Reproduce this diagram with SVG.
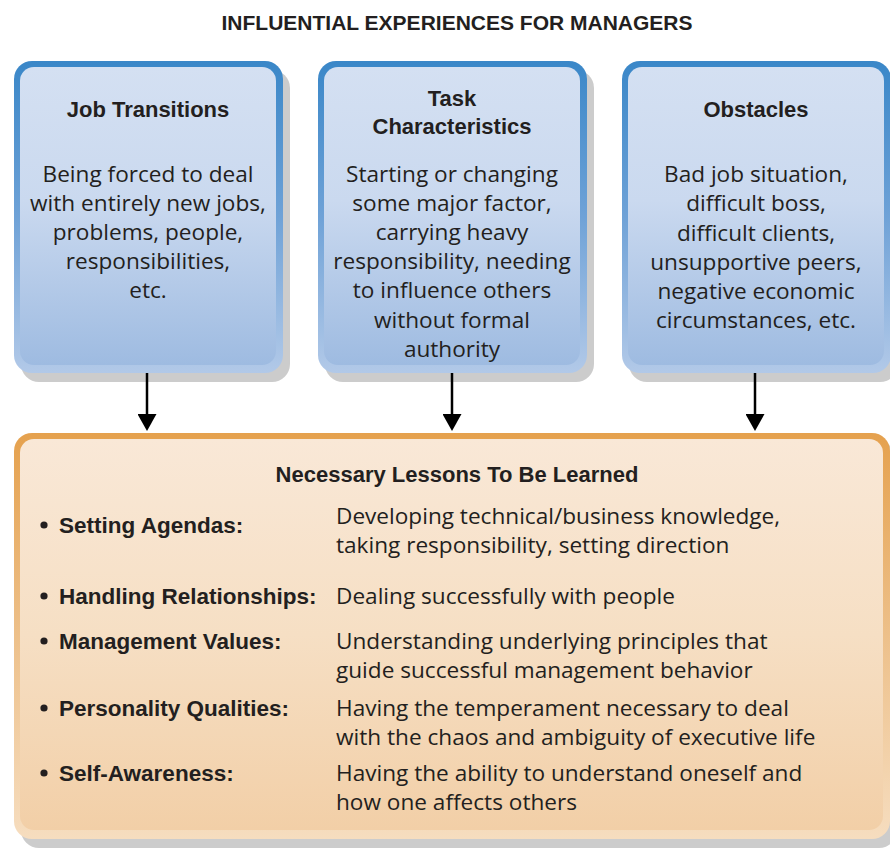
<svg xmlns="http://www.w3.org/2000/svg" width="890" height="865" viewBox="0 0 890 865">
<defs>
<linearGradient id="blueBorder" x1="0" y1="0" x2="0" y2="1">
<stop offset="0" stop-color="#3a87c8"/>
<stop offset="0.5" stop-color="#6fa2d7"/>
<stop offset="1" stop-color="#b2c9e8"/>
</linearGradient>
<linearGradient id="blueFill" x1="0" y1="0" x2="0" y2="1">
<stop offset="0" stop-color="#d4e0f2"/>
<stop offset="0.45" stop-color="#cad9ef"/>
<stop offset="1" stop-color="#9ebbe1"/>
</linearGradient>
<linearGradient id="orangeBorder" x1="0" y1="0" x2="0" y2="1">
<stop offset="0" stop-color="#e5a14e"/>
<stop offset="0.5" stop-color="#edc08a"/>
<stop offset="1" stop-color="#f6ddbf"/>
</linearGradient>
<linearGradient id="orangeFill" x1="0" y1="0" x2="0" y2="1">
<stop offset="0" stop-color="#f9e8d7"/>
<stop offset="0.5" stop-color="#f6dfc4"/>
<stop offset="1" stop-color="#f2cfa7"/>
</linearGradient>
<marker id="arrow" markerWidth="17" markerHeight="19" refX="6" refY="9.5" orient="auto" markerUnits="userSpaceOnUse" viewBox="0 0 17 19">
<path d="M0,0 L17,9.5 L0,19 Z" fill="#000"/>
</marker>
</defs>
<style>
.shadow{fill:#cccccc}
.title{font-family:"Liberation Sans",Arial,sans-serif;font-weight:bold;font-size:22px;fill:#231f20;text-anchor:middle}
.body{font-family:"Open Sans","Liberation Sans",sans-serif;font-size:22.6px;fill:#231f20;text-anchor:middle}
.label{font-family:"Liberation Sans",Arial,sans-serif;font-weight:bold;font-size:22.5px;fill:#231f20}
.desc{font-family:"Open Sans","Liberation Sans",sans-serif;font-size:22.6px;fill:#231f20}
.conn{stroke:#000;stroke-width:2.5;fill:none}
</style>
<rect width="890" height="865" fill="#ffffff"/>
<text x="457" y="30" class="title" style="font-size:21px">INFLUENTIAL EXPERIENCES FOR MANAGERS</text>

<g id="job-transitions">
<rect class="shadow" x="21" y="70" width="269" height="312" rx="18"/>
<rect x="14" y="61" width="269" height="312" rx="18" fill="url(#blueBorder)"/>
<rect x="20" y="67" width="256" height="298" rx="14" fill="url(#blueFill)"/>
<text x="148" y="117" class="title">Job Transitions</text>
<text class="body"><tspan x="148" y="182">Being forced to deal</tspan><tspan x="148" y="211">with entirely new jobs,</tspan><tspan x="148" y="240">problems, people,</tspan><tspan x="148" y="269">responsibilities,</tspan><tspan x="148" y="298">etc.</tspan></text>
</g>

<g id="task-characteristics">
<rect class="shadow" x="325" y="70" width="269" height="312" rx="18"/>
<rect x="318" y="61" width="269" height="312" rx="18" fill="url(#blueBorder)"/>
<rect x="324" y="67" width="256" height="298" rx="14" fill="url(#blueFill)"/>
<text class="title"><tspan x="452" y="106">Task</tspan><tspan x="452" y="134">Characteristics</tspan></text>
<text class="body"><tspan x="452" y="182">Starting or changing</tspan><tspan x="452" y="211">some major factor,</tspan><tspan x="452" y="240">carrying heavy</tspan><tspan x="452" y="269">responsibility, needing</tspan><tspan x="452" y="298">to influence others</tspan><tspan x="452" y="328">without formal</tspan><tspan x="452" y="357">authority</tspan></text>
</g>

<g id="obstacles">
<rect class="shadow" x="629" y="70" width="269" height="312" rx="18"/>
<rect x="622" y="61" width="269" height="312" rx="18" fill="url(#blueBorder)"/>
<rect x="628" y="67" width="256" height="298" rx="14" fill="url(#blueFill)"/>
<text x="756" y="117" class="title">Obstacles</text>
<text class="body"><tspan x="756" y="182">Bad job situation,</tspan><tspan x="756" y="211">difficult boss,</tspan><tspan x="756" y="241">difficult clients,</tspan><tspan x="756" y="270">unsupportive peers,</tspan><tspan x="756" y="299">negative economic</tspan><tspan x="756" y="328">circumstances, etc.</tspan></text>
</g>

<g id="connectors">
<line class="conn" x1="147" y1="373" x2="147" y2="420" marker-end="url(#arrow)"/>
<line class="conn" x1="452" y1="373" x2="452" y2="420" marker-end="url(#arrow)"/>
<line class="conn" x1="755" y1="373" x2="755" y2="420" marker-end="url(#arrow)"/>
</g>

<g id="lessons">
<rect class="shadow" x="21" y="442" width="876" height="406" rx="18"/>
<rect x="14" y="433" width="876" height="406" rx="18" fill="url(#orangeBorder)"/>
<rect x="20" y="439" width="863" height="391" rx="14" fill="url(#orangeFill)"/>
<text x="457" y="482" class="title">Necessary Lessons To Be Learned</text>
<g class="label">
<circle cx="44" cy="525" r="3.6" fill="#231f20"/>
<text x="59" y="533">Setting Agendas:</text>
<circle cx="44" cy="596" r="3.6" fill="#231f20"/>
<text x="59" y="604">Handling Relationships:</text>
<circle cx="44" cy="641" r="3.6" fill="#231f20"/>
<text x="59" y="649">Management Values:</text>
<circle cx="44" cy="708" r="3.6" fill="#231f20"/>
<text x="59" y="716">Personality Qualities:</text>
<circle cx="44" cy="773" r="3.6" fill="#231f20"/>
<text x="59" y="781">Self-Awareness:</text>
</g>
<text class="desc"><tspan x="336" y="524">Developing technical/business knowledge,</tspan><tspan x="336" y="553">taking responsibility, setting direction</tspan></text>
<text class="desc" x="336" y="604">Dealing successfully with people</text>
<text class="desc"><tspan x="336" y="649">Understanding underlying principles that</tspan><tspan x="336" y="678">guide successful management behavior</tspan></text>
<text class="desc"><tspan x="336" y="716">Having the temperament necessary to deal</tspan><tspan x="336" y="745">with the chaos and ambiguity of executive life</tspan></text>
<text class="desc"><tspan x="336" y="781">Having the ability to understand oneself and</tspan><tspan x="336" y="810">how one affects others</tspan></text>
</g>
</svg>
